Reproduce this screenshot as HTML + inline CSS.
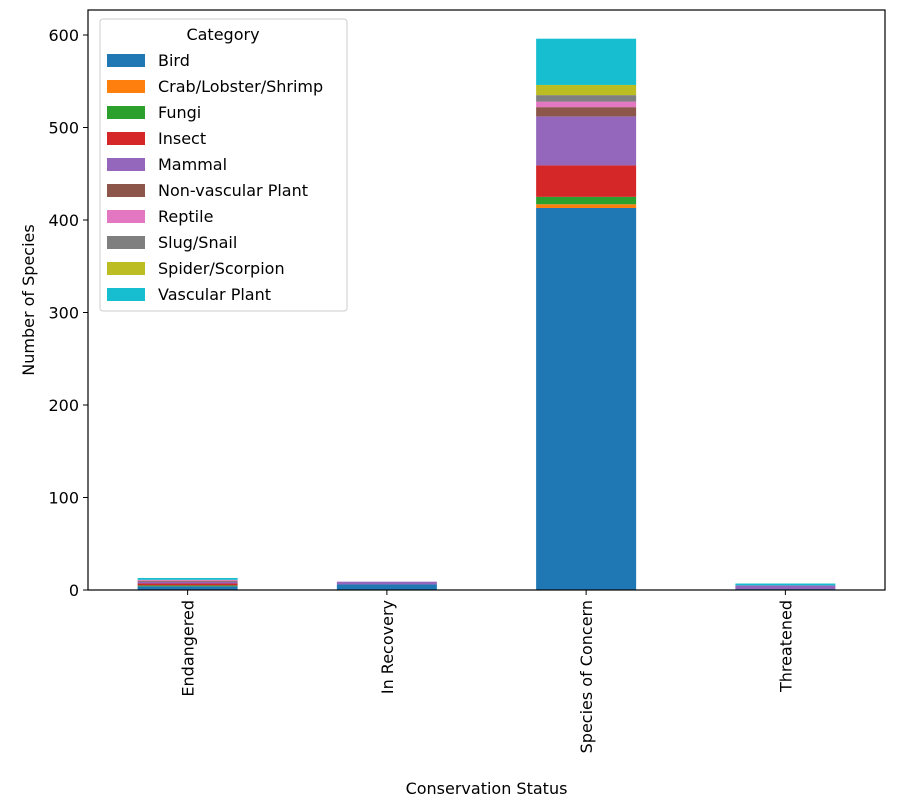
<!DOCTYPE html>
<html><head><meta charset="utf-8"><style>
body{margin:0;background:#fff;font-family:"Liberation Sans","DejaVu Sans",sans-serif}
svg text{font-family:"DejaVu Sans","Liberation Sans",sans-serif;fill:#000}
</style></head><body>
<svg id="chart" width="898" height="800" xmlns="http://www.w3.org/2000/svg"></svg>
<script>
const categories = ["Endangered","In Recovery","Species of Concern","Threatened"];
const seriesNames = ["Bird","Crab/Lobster/Shrimp","Fungi","Insect","Mammal","Non-vascular Plant","Reptile","Slug/Snail","Spider/Scorpion","Vascular Plant"];
const colors = ["#1f77b4","#ff7f0e","#2ca02c","#d62728","#9467bd","#8c564b","#e377c2","#7f7f7f","#bcbd22","#17becf"];
const bird = [4,6,413,1];
const crab = [0,0,4,0];
const fungi = [1,0,8,0];
const insect = [2,0,34,0];
const mammal = [2,3,53,4];
const nonvascular = [1,0,10,0];
const reptile = [1,0,6,0];
const slug = [0,0,7,0];
const spider = [0,0,11,0];
const vascular = [2,0,50,2];
const series = [bird,crab,fungi,insect,mammal,nonvascular,reptile,slug,spider,vascular];
const yTicks = [0,100,200,300,400,500,600];

const svg = document.getElementById('chart');
const NS = 'http://www.w3.org/2000/svg';
const L=88,R=885,T=10,B=590;
const yScale = v => B - v*0.925;
const xScale = i => L + (R-L)/categories.length*(i+0.5);
const bw = 100;
function mk(tag, attrs, parent){const e=document.createElementNS(NS,tag);for(const k in attrs)e.setAttribute(k,attrs[k]);(parent||svg).appendChild(e);return e;}

// bars
categories.forEach((c,i)=>{
  let base=0;
  series.forEach((s,j)=>{
    const v=s[i]; if(!v){return;}
    const r=mk('rect',{x:xScale(i)-bw/2,y:yScale(base+v),width:bw,height:yScale(base)-yScale(base+v),fill:colors[j]});
    
    
    base+=v;
  });
});
// frame
const fr=mk('rect',{x:L,y:T,width:R-L,height:B-T,fill:'none',stroke:'#000','stroke-width':1.2});


// y ticks
yTicks.forEach(t=>{
  const y=yScale(t);
  mk('line',{x1:L-5,x2:L,y1:y,y2:y,stroke:'#000'});
  const tx=mk('text',{x:L-9,y:y+6,'text-anchor':'end','font-size':16});
  tx.textContent=t;
  
  
});
// x ticks
categories.forEach((c,i)=>{
  const x=xScale(i);
  mk('line',{x1:x,x2:x,y1:B,y2:B+5,stroke:'#000'});
  const tx=mk('text',{x:0,y:0,'text-anchor':'end','font-size':16,transform:`translate(${x+6},${B+10}) rotate(-90)`});
  tx.textContent=c;
  
  
});
const xt=mk('text',{x:(L+R)/2,y:794,'text-anchor':'middle','font-size':16});
xt.textContent='Conservation Status';


const yt=mk('text',{x:0,y:0,'text-anchor':'middle','font-size':16,transform:'translate(34,300) rotate(-90)'});
yt.textContent='Number of Species';


// legend
const lg=mk('g',{});


mk('rect',{x:100,y:19,width:247,height:292,fill:'#fff',stroke:'#ccc',rx:3},lg);
const lt=mk('text',{x:223,y:40,'text-anchor':'middle','font-size':16},lg);
lt.textContent='Category';
seriesNames.forEach((n,j)=>{
  const y=60+j*26;
  const g=mk('g',{},lg);
  
  
  mk('rect',{x:107,y:y-6,width:38,height:13,fill:colors[j]},g);
  const t=mk('text',{x:158,y:y+6,'font-size':16},g);
  t.textContent=n;
});
</script>
</body></html>
